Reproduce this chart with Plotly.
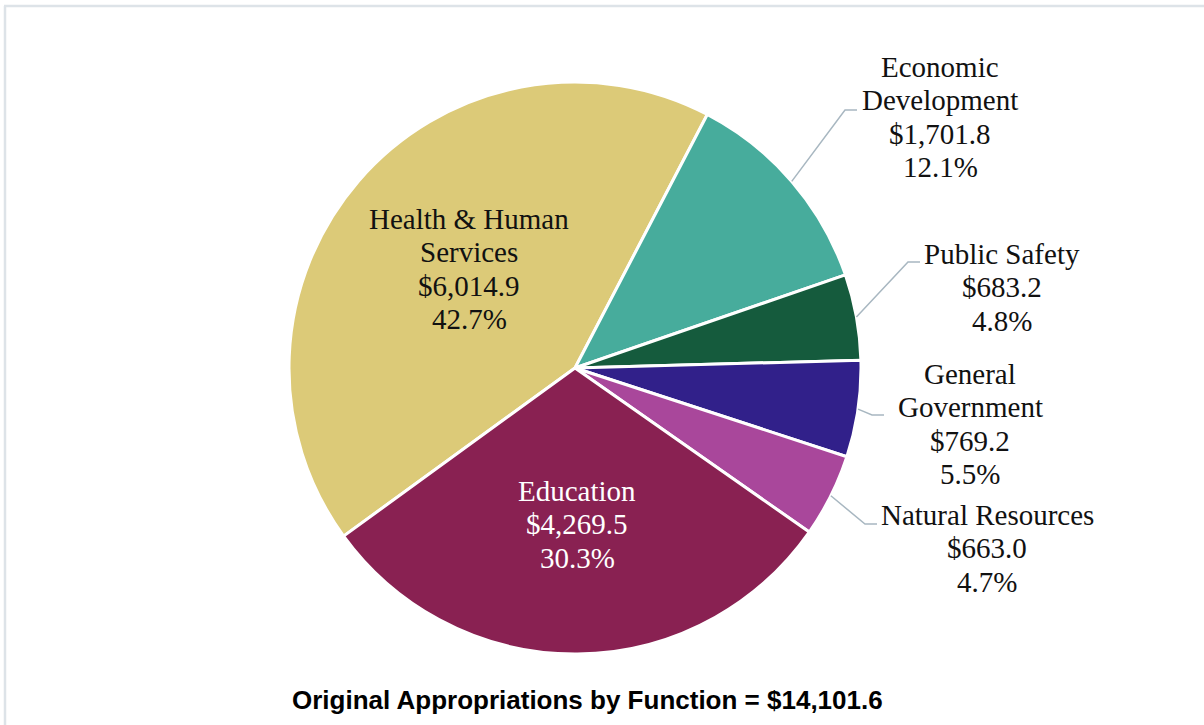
import math
import plotly.graph_objects as go

# ---- data -------------------------------------------------------------
categories = [
    "Health & Human Services",
    "Economic Development",
    "Public Safety",
    "General Government",
    "Natural Resources",
    "Education",
]
name_lines = [
    ["Health & Human", "Services"],
    ["Economic", "Development"],
    ["Public Safety"],
    ["General", "Government"],
    ["Natural Resources"],
    ["Education"],
]
values = [6014.9, 1701.8, 683.2, 769.2, 663.0, 4269.5]
colors = ["#DCCA78", "#47AC9C", "#155B3D", "#31208A", "#A9479B", "#892152"]
title_text = "Original Appropriations by Function = $14,101.6"

# ---- geometry / style -------------------------------------------------
W, H = 1204, 725
CX, CY, R = 575, 368, 286          # pie centre and radius in pixels
ROTATION = 234                     # start of first slice, clockwise from 12 o'clock
SERIF = "Liberation Serif, Times New Roman, serif"
SANS = "Liberation Sans, Arial, sans-serif"
LABEL_SIZE = 29
LINE_STEP = 33.3
LEADER_COLOR = "#A8B7C1"

# label block per slice: centre x, first-line y, text colour, leader end (x, y) or None
label_style = [
    dict(x=469, y=219, color="#111111", leader=None),
    dict(x=940, y=67, color="#111111", leader=(857, 110)),
    dict(x=1002, y=254, color="#111111", leader=(920, 262)),
    dict(x=970, y=374, color="#111111", leader=(884, 415)),
    dict(x=987, y=515, color="#111111", leader=(877, 524)),
    dict(x=577, y=491, color="#FFFFFF", leader=None),
]


def fx(x):
    return x / W


def fy(y):
    return 1 - y / H


def edge_point(theta_deg, r=R):
    t = math.radians(theta_deg)
    return CX + r * math.sin(t), CY - r * math.cos(t)


total = sum(values)
mid_angles = []
acc = 0.0
for v in values:
    mid_angles.append(ROTATION + (acc + v / 2) / total * 360)
    acc += v

fig = go.Figure()
fig.add_trace(
    go.Pie(
        labels=categories,
        values=values,
        sort=False,
        direction="clockwise",
        rotation=ROTATION - 360,
        marker=dict(colors=colors, line=dict(color="white", width=3)),
        textinfo="none",
        hoverinfo="label+value+percent",
        showlegend=False,
        domain=dict(x=[fx(CX - R), fx(CX + R)], y=[fy(CY + R), fy(CY - R)]),
    )
)

annotations = []
shapes = []
for i, (lines, v, st) in enumerate(zip(name_lines, values, label_style)):
    text_lines = lines + [f"${v:,.1f}", f"{v / total * 100:.1f}%"]
    for k, t in enumerate(text_lines):
        annotations.append(
            dict(
                x=fx(st["x"]), y=fy(st["y"] + k * LINE_STEP),
                xref="paper", yref="paper",
                text=t, showarrow=False,
                xanchor="center", yanchor="middle",
                font=dict(family=SERIF, size=LABEL_SIZE, color=st["color"]),
            )
        )
    if st["leader"] is not None:
        sx, sy = edge_point(mid_angles[i])
        ex, ey = st["leader"]
        elbow_x = ex - 12
        path = (
            f"M {fx(sx)},{fy(sy)} L {fx(elbow_x)},{fy(ey)} L {fx(ex)},{fy(ey)}"
        )
        shapes.append(
            dict(type="path", xref="paper", yref="paper", path=path,
                 line=dict(color=LEADER_COLOR, width=1.5))
        )

# chart title under the pie
annotations.append(
    dict(
        x=fx(587), y=fy(700), xref="paper", yref="paper",
        text=f"<b>{title_text}</b>", showarrow=False,
        xanchor="center", yanchor="middle",
        font=dict(family=SANS, size=26, color="#000000"),
    )
)

# thin frame along the top and left edges
frame = dict(color="#DDE3E8", width=2.5)
shapes.append(dict(type="line", xref="paper", yref="paper",
                   x0=fx(4), y0=fy(6), x1=1, y1=fy(6), line=frame))
shapes.append(dict(type="line", xref="paper", yref="paper",
                   x0=fx(5), y0=fy(6), x1=fx(5), y1=0, line=frame))

fig.update_layout(
    width=W, height=H,
    autosize=False,
    margin=dict(l=0, r=0, t=0, b=0),
    paper_bgcolor="white",
    plot_bgcolor="white",
    annotations=annotations,
    shapes=shapes,
)

fig.write_html("out.html")
